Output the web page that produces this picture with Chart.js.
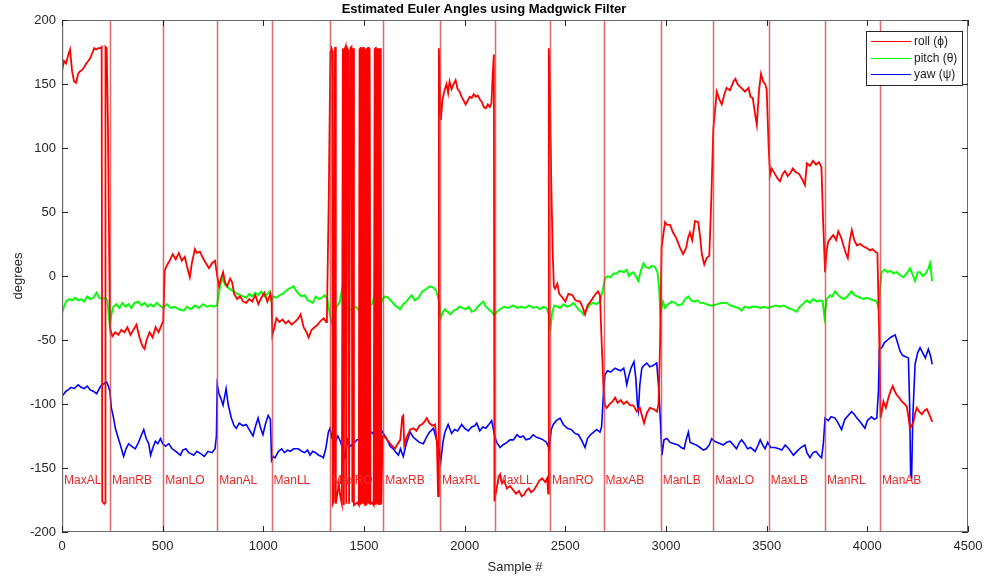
<!DOCTYPE html>
<html>
<head>
<meta charset="utf-8">
<script src="https://cdn.jsdelivr.net/npm/chart.js@4.4.0/dist/chart.umd.min.js"></script>
<style>
html, body { margin: 0; padding: 0; background: #fff; }
</style>
</head>
<body>
<canvas id="myChart" width="990" height="578"></canvas>
<script>
// --- data (sample #, degrees) ---
const rollX = [
    0,10,20,30,40,50,60,70,80,90,100,110,120,130,140,150,160,170,180,190,197,200,210,214,216,222,228,233,238,
    250,265,280,295,310,325,340,355,370,385,400,410,420,435,450,465,480,495,503,
    510,520,535,550,565,580,595,610,620,635,645,660,670,685,700,715,730,745,760,771,
    780,790,800,810,820,835,845,855,870,885,900,915,930,945,960,975,990,1005,1020,1035,1041,
    1045,1055,1065,1080,1095,1110,1125,1140,1155,1170,1185,1200,1215,1225,1240,1255,1270,1285,1300,1312,
    1316,1325,1333,1338,1342,1345,1350,1356,1360,1368,1375,1382,1390,1395,1400,1404,1408,1412,1416,1422,1426,1432,1438,1442,1446,1450,1458,1466,1474,
    1478,1481,1484,1487,1490,1493,1496,1499,1502,1505,1508,1511,1514,1517,1520,1524,1528,1532,1540,1548,1553,1556,1559,1562,1565,1568,1571,1574,1577,1580,1583,1586,
    1592,1605,1620,1635,1654,1668,1680,1690,1695,1700,1712,1729,1745,1760,1775,1787,1800,1812,1825,1840,1853,1862,1868,1872,
    1876,1882,1890,1900,1910,1918,1925,1935,1945,1955,1965,1975,1985,1995,2005,2015,2025,2035,2045,2055,2065,2075,2085,2095,2105,2115,2125,2133,2140,2145,2148,
    2152,2160,2168,2176,2186,2196,2210,2225,2240,2255,2270,2283,2295,2305,2318,2330,2345,2360,2370,2385,2400,2410,2415,2418,2424,2430,2437,2443,
    2449,2460,2470,2486,2500,2515,2536,2550,2573,2585,2598,2610,2625,2646,2662,2672,2680,2690,2697,
    2706,2720,2735,2747,2760,2775,2790,2805,2822,2838,2855,2870,2882,2891,2905,2920,2938,2955,2963,2970,2978,2995,
    3005,3020,3035,3050,3070,3085,3100,3110,3119,3130,3144,3160,3170,3178,3190,3202,3215,3225,3235,3252,
    3265,3277,3290,3301,3318,3335,3345,3355,3367,3380,3392,3410,3420,3431,3441,3451,3462,3472,3482,3492,3500,3510,3517,
    3525,3540,3555,3566,3580,3591,3605,3616,3630,3645,3660,3675,3690,3700,3715,3730,3745,3760,3772,3780,3790,
    3798,3806,3820,3831,3845,3856,3870,3881,3893,3903,3913,3923,3935,3948,3965,3981,3995,4014,4025,4039,4050,4058,4066,
    4073,4080,4092,4105,4115,4126,4136,4146,4158,4171,4185,4196,4204,4212,4220,4229,4238,4246,4258,4271,4284,4296,4310,4322
];
const rollY = [
    160,168,166,172,177,160,152,151,158,160,161,163,166,168,170,174,178,177,178,178,179,-176,-178,-177,179,178,120,40,-40,
    -47,-44,-46,-42,-44,-40,-46,-42,-38,-48,-55,-57,-50,-44,-48,-40,-44,-38,-35,
    4,8,12,17,13,18,12,15,8,-1,10,21,18,19,14,10,6,10,12,0,
    -8,-2,3,-5,-8,-2,-5,-14,-18,-16,-20,-21,-18,-20,-15,-22,-17,-13,-20,-14,-20,
    -46,-40,-33,-36,-34,-37,-35,-38,-36,-34,-30,-40,-44,-48,-42,-40,-38,-35,-33,-36,
    -30,60,175,178,176,-178,-176,179,-178,-170,-162,-172,-178,178,-179,177,179,-178,178,176,-178,178,179,-177,178,-179,-178,-177,-179,
    178,-178,179,-177,178,-178,179,-178,178,-179,177,-178,178,-177,179,-178,178,-178,-177,-179,178,-178,179,-177,178,-178,177,-179,178,-178,178,-178,
    -125,-126,-129,-132,-135,-131,-128,-110,-109,-132,-126,-120,-119,-121,-117,-116,-114,-111,-115,-117,-116,-130,-172,178,
    150,122,138,145,150,143,152,146,150,153,146,144,140,137,134,137,140,139,142,140,141,138,136,132,131,134,132,135,160,173,-176,
    -172,-165,-158,-155,-162,-160,-166,-164,-167,-170,-168,-172,-171,-168,-166,-169,-167,-163,-160,-158,-161,-158,-170,178,140,75,20,-8,
    -10,-6,-14,-17,-20,-14,-15,-19,-20,-24,-30,-23,-20,-15,-12,-15,-50,-90,-101,
    -103,-100,-98,-95,-99,-97,-100,-98,-101,-101,-106,-103,-110,-115,-107,-103,-104,-106,-100,-56,22,42,
    40,40,34,30,22,17,22,30,34,28,43,42,30,17,9,14,16,60,115,144,
    138,134,142,147,145,152,154,150,148,146,144,147,140,139,128,118,145,158,152,150,146,100,79,
    84,80,76,74,80,82,78,80,84,81,80,76,71,88,86,90,87,89,85,45,3,
    20,27,30,32,28,35,30,24,18,14,28,36,28,24,25,23,22,20,21,19,18,-40,-111,
    -105,-98,-103,-95,-90,-86,-90,-93,-95,-98,-100,-102,-110,-119,-117,-114,-107,-103,-106,-108,-105,-104,-109,-114
];

const pitchX = [
    0,10,20,35,50,65,80,95,110,125,140,155,172,185,200,215,225,232,238,
    245,255,270,285,300,315,330,345,360,379,395,410,425,440,455,470,485,503,
    520,540,560,580,605,620,640,660,680,700,720,740,755,770,
    785,798,810,825,840,855,870,885,900,916,930,945,960,975,990,1005,1020,1032,1041,
    1049,1065,1080,1095,1110,1125,1140,1149,1160,1175,1190,1205,1220,1235,1246,1260,1275,1290,1305,1318,
    1330,1340,1352,1364,1380,1394,1401,1410,1425,1442,1460,1475,1490,1505,1520,1540,1557,1565,1580,1592,
    1604,1620,1638,1655,1679,1695,1710,1725,1737,1752,1770,1790,1810,1828,1845,1860,1872,1881,
    1892,1902,1915,1930,1945,1960,1975,1990,2005,2020,2035,2051,2065,2078,2092,2105,2120,2134,2148,
    2160,2176,2195,2215,2242,2260,2280,2300,2320,2340,2357,2375,2390,2407,2418,2427,
    2435,2445,2460,2474,2490,2510,2525,2540,2555,2565,2580,2590,2600,2615,2625,2639,2655,2672,2685,2697,
    2710,2725,2740,2755,2770,2790,2805,2815,2826,2838,2850,2863,2875,2888,2900,2915,2930,2945,2958,2966,2972,
    2985,2995,3010,3028,3045,3060,3080,3095,3111,3125,3140,3155,3170,3185,3200,3218,3235,
    3255,3275,3301,3320,3340,3360,3376,3390,3410,3430,3450,3470,3490,3505,
    3525,3545,3565,3585,3605,3625,3649,3665,3680,3699,3715,3730,3749,3765,3778,3787,
    3798,3815,3825,3840,3855,3870,3885,3900,3922,3935,3950,3965,3980,3995,4015,4030,4047,4055,4063,
    4071,4085,4100,4115,4129,4145,4160,4179,4195,4212,4225,4237,4250,4262,4275,4290,4303,4312,4322
];
const pitchY = [
    -29,-24,-20,-18,-19,-17,-19,-18,-20,-16,-18,-17,-13,-17,-18,-17,-19,-30,-40,
    -30,-24,-22,-25,-21,-24,-22,-25,-21,-20,-23,-21,-24,-22,-24,-21,-23,-25,
    -22,-25,-24,-26,-27,-24,-26,-23,-25,-22,-24,-23,-24,-23,
    -8,-2,-7,-9,-11,-12,-14,-15,-16,-17,-14,-16,-13,-15,-12,-16,-14,-12,-20,
    -16,-17,-15,-14,-12,-10,-9,-8,-11,-14,-16,-15,-19,-20,-21,-16,-18,-17,-15,-18,
    -30,-36,-30,-24,-20,-8,-10,-24,-26,-26,-24,-27,-25,-25,-24,-22,-12,-16,-24,-18,
    -16,-17,-20,-23,-26,-22,-20,-17,-15,-19,-17,-12,-10,-8,-9,-12,-20,-33,
    -28,-26,-28,-30,-27,-26,-24,-25,-26,-24,-28,-27,-24,-22,-20,-24,-26,-28,-31,
    -28,-26,-24,-25,-23,-25,-24,-25,-23,-25,-24,-26,-24,-25,-30,-40,
    -28,-23,-24,-25,-22,-24,-23,-21,-24,-26,-28,-30,-27,-24,-22,-21,-22,-20,-12,-2,
    0,-1,2,2,4,3,5,0,2,3,0,-4,4,10,7,6,8,7,3,-10,-30,
    -20,-25,-22,-20,-21,-23,-22,-18,-16,-19,-20,-19,-21,-21,-22,-23,-23,
    -22,-21,-21,-23,-24,-25,-27,-24,-25,-24,-24,-25,-24,-25,
    -24,-23,-24,-23,-25,-26,-28,-24,-22,-19,-21,-18,-20,-19,-20,-32,
    -18,-15,-16,-12,-15,-17,-18,-16,-12,-15,-16,-17,-18,-17,-18,-19,-20,-25,-10,
    3,5,3,4,2,3,1,-1,2,6,1,-4,3,3,0,2,6,10,-4
];

const yawX = [
    0,10,20,30,45,60,80,95,110,125,140,155,172,185,197,210,222,230,238,
    245,255,265,278,290,306,318,331,345,364,380,395,406,418,431,440,452,464,476,489,
    500,515,530,547,565,588,600,615,630,654,670,690,707,725,745,760,767,771,
    780,790,800,815,825,841,855,866,880,899,915,930,949,960,974,985,998,1010,1024,1035,1041,
    1050,1058,1075,1091,1105,1120,1135,1150,1174,1190,1205,1220,1232,1245,1260,1275,1290,1298,1310,1323,
    1331,1342,1356,1370,1385,1395,1405,1418,1432,1447,1465,1488,1505,1520,1538,1555,1570,1588,
    1600,1612,1630,1645,1660,1671,1681,1695,1710,1729,1745,1760,1775,1795,1810,1825,1845,1860,1872,1881,
    1892,1902,1918,1935,1950,1965,1985,2000,2018,2035,2050,2060,2075,2090,2105,2120,2134,2148,
    2159,2176,2190,2210,2225,2242,2260,2275,2290,2305,2324,2340,2357,2375,2390,2407,2420,
    2430,2440,2455,2474,2490,2510,2530,2548,2565,2580,2598,2610,2625,2640,2656,2672,2680,2690,
    2697,2710,2725,2747,2760,2775,2790,2798,2805,2815,2826,2841,2850,2858,2863,2870,2880,2890,2904,2920,2935,2954,2965,2980,
    2990,3005,3020,3040,3061,3075,3090,3100,3111,3120,3135,3150,3169,3185,3200,3215,3227,
    3240,3255,3270,3285,3300,3318,3335,3350,3365,3376,3390,3405,3420,3443,3455,3468,3480,3492,3505,
    3520,3540,3560,3575,3592,3610,3633,3650,3670,3690,3700,3715,3730,3745,3760,3773,3782,3790,
    3806,3820,3840,3855,3872,3888,3905,3922,3935,3948,3965,3988,4000,4020,4035,4047,4055,
    4060,4072,4085,4100,4115,4138,4150,4163,4175,4190,4204,4210,4215,4220,4226,4237,4250,4262,4275,4288,4303,4315,4322
];
const yawY = [
    -94,-92,-90,-89,-87,-88,-85,-87,-88,-86,-89,-90,-92,-88,-85,-84,-83,-86,-90,
    -103,-110,-119,-126,-132,-141,-135,-131,-133,-135,-130,-124,-120,-127,-131,-140,-134,-129,-131,-127,
    -131,-133,-131,-135,-137,-140,-136,-135,-138,-140,-137,-139,-141,-137,-138,-135,-125,-85,
    -92,-96,-101,-88,-100,-111,-117,-119,-115,-117,-116,-120,-125,-118,-111,-118,-124,-116,-109,-112,-144,
    -141,-142,-137,-135,-138,-136,-137,-135,-135,-137,-138,-136,-140,-137,-138,-140,-141,-142,-135,-122,
    -119,-127,-130,-125,-130,-137,-142,-128,-133,-131,-128,-127,-125,-124,-122,-125,-124,-121,
    -124,-127,-133,-135,-138,-140,-135,-141,-131,-122,-126,-128,-130,-131,-126,-122,-119,-128,-135,-145,
    -130,-122,-116,-123,-120,-121,-116,-119,-121,-118,-117,-115,-121,-118,-119,-116,-113,-124,
    -130,-134,-132,-130,-128,-128,-124,-126,-125,-128,-127,-124,-126,-127,-128,-130,-135,
    -120,-116,-113,-111,-116,-119,-120,-123,-124,-128,-134,-127,-124,-122,-120,-122,-118,-90,
    -77,-74,-75,-72,-73,-74,-72,-78,-85,-78,-72,-67,-80,-100,-105,-85,-72,-70,-68,-71,-70,-68,-90,-140,
    -128,-127,-130,-131,-132,-134,-135,-128,-122,-130,-131,-132,-134,-136,-135,-132,-127,
    -129,-130,-131,-132,-130,-129,-132,-135,-130,-128,-131,-135,-134,-137,-133,-128,-132,-135,-130,
    -134,-134,-135,-136,-132,-135,-140,-137,-134,-132,-138,-142,-138,-137,-140,-142,-130,-111,
    -113,-110,-111,-115,-120,-112,-109,-106,-108,-111,-114,-119,-113,-110,-112,-111,-90,
    -57,-56,-52,-50,-48,-46,-52,-59,-62,-63,-64,-100,-155,-157,-110,-69,-60,-56,-60,-64,-57,-63,-69
];

// manoeuvre boundaries and their labels
const segmentStarts = [0, 238, 503, 771, 1041, 1331, 1596, 1878, 2149, 2424, 2690, 2974, 3235, 3510, 3790, 4063];
const segmentNames = ['MaxAL','ManRB','ManLO','ManAL','ManLL','MaxRO','MaxRB','MaxRL','MaxLL','ManRO','MaxAB','ManLB','MaxLO','MaxLB','ManRL','ManAB'];
const segmentLabelY = -160;

const xTicks = [0, 4500, 500];   // min, max, step
const yTicks = [-200, 200, 50];

function toPoints(xs, ys) {
    const n = Math.min(xs.length, ys.length);
    const out = [];
    for (let i = 0; i < n; i++) out.push({x: xs[i], y: ys[i]});
    return out;
}

Chart.defaults.font.family = '"Liberation Sans", Arial, Helvetica, sans-serif';
Chart.defaults.color = '#262626';

// vertical manoeuvre lines + their names
const segmentPlugin = {
    id: 'segments',
    afterDatasetsDraw(chart) {
        const ctx = chart.ctx, a = chart.chartArea;
        const xs = chart.scales.x, ys = chart.scales.y;
        ctx.save();
        ctx.beginPath();
        ctx.rect(a.left, a.top, a.right - a.left, a.bottom - a.top);
        ctx.clip();
        ctx.strokeStyle = 'rgba(215,55,55,0.75)';
        ctx.lineWidth = 1.5;
        segmentStarts.forEach(s => {
            const px = Math.round(xs.getPixelForValue(s)) + 0.5;
            ctx.beginPath();
            ctx.moveTo(px, a.top);
            ctx.lineTo(px, a.bottom);
            ctx.stroke();
        });
        ctx.fillStyle = 'rgb(232,40,40)';
        ctx.font = '12px "Liberation Sans", Arial, sans-serif';
        ctx.textBaseline = 'middle';
        ctx.textAlign = 'left';
        segmentStarts.forEach((s, i) => {
            ctx.fillText(segmentNames[i], xs.getPixelForValue(s) + 2, ys.getPixelForValue(segmentLabelY));
        });
        ctx.restore();
    }
};

// MATLAB style box, inward ticks and legend
const boxPlugin = {
    id: 'box',
    afterDraw(chart) {
        const ctx = chart.ctx, a = chart.chartArea;
        const xs = chart.scales.x, ys = chart.scales.y;
        ctx.save();
        ctx.strokeStyle = '#6a6a6a';
        ctx.lineWidth = 1;
        ctx.strokeRect(a.left + 0.5, a.top + 0.5, a.right - a.left - 1, a.bottom - a.top - 1);
        ctx.strokeStyle = '#262626';
        ctx.beginPath();
        xs.ticks.forEach(t => {
            const px = Math.round(xs.getPixelForValue(t.value)) + 0.5;
            ctx.moveTo(px, a.bottom); ctx.lineTo(px, a.bottom - 6);
            ctx.moveTo(px, a.top); ctx.lineTo(px, a.top + 6);
        });
        ys.ticks.forEach(t => {
            const py = Math.round(ys.getPixelForValue(t.value)) + 0.5;
            ctx.moveTo(a.left, py); ctx.lineTo(a.left + 6, py);
            ctx.moveTo(a.right, py); ctx.lineTo(a.right - 6, py);
        });
        ctx.stroke();

        // legend
        const w = 96, h = 54;
        const lx = Math.round(a.right - 6 - w), ly = Math.round(a.top + 11);
        ctx.fillStyle = '#fff';
        ctx.fillRect(lx, ly, w, h);
        ctx.strokeStyle = '#262626';
        ctx.strokeRect(lx + 0.5, ly + 0.5, w, h);
        ctx.font = '12px "Liberation Sans", Arial, sans-serif';
        ctx.textBaseline = 'middle';
        chart.data.datasets.forEach((d, i) => {
            const yy = ly + 10 + Math.round(i * 16.7) + 0.5;
            ctx.beginPath();
            ctx.strokeStyle = d.borderColor;
            ctx.lineWidth = 1.2;
            ctx.moveTo(lx + 5, yy); ctx.lineTo(lx + 45, yy);
            ctx.stroke();
            ctx.fillStyle = '#1a1a1a';
            ctx.fillText(d.label, lx + 48, yy);
        });
        ctx.restore();
    }
};

new Chart(document.getElementById('myChart'), {
    type: 'line',
    data: {
        datasets: [{
            label: 'roll (ϕ)',
            data: toPoints(rollX, rollY),
            borderColor: 'rgb(255,0,0)',
            borderWidth: 1.8,
        }, {
            label: 'pitch (θ)',
            data: toPoints(pitchX, pitchY),
            borderColor: 'rgb(0,255,0)',
            borderWidth: 1.9,
        }, {
            label: 'yaw (ψ)',
            data: toPoints(yawX, yawY),
            borderColor: 'rgb(0,0,255)',
            borderWidth: 1.6,
        }]
    },
    options: {
        responsive: false,
        animation: false,
        layout: { padding: { left: 0, right: 22, top: 0, bottom: 0 } },
        elements: {
            point: { radius: 0 },
            line: { tension: 0 }
        },
        plugins: {
            legend: { display: false },
            tooltip: { enabled: false },
            title: {
                display: true,
                text: 'Estimated Euler Angles using Madgwick Filter',
                color: '#000',
                font: { size: 13, weight: 'bold', lineHeight: 1 },
                padding: { top: 3, bottom: 4 }
            }
        },
        scales: {
            x: {
                type: 'linear',
                min: xTicks[0], max: xTicks[1],
                grid: { display: false, drawTicks: false },
                border: { display: false },
                ticks: { stepSize: xTicks[2], padding: 7, font: { size: 13 }, color: '#262626', maxRotation: 0,
                         callback: v => String(v) },
                title: { display: true, text: 'Sample #', font: { size: 13 }, color: '#262626', padding: { top: 0, bottom: 3 } },
                afterFit: s => { s.height = 46; }
            },
            y: {
                min: yTicks[0], max: yTicks[1],
                grid: { display: false, drawTicks: false },
                border: { display: false },
                ticks: { stepSize: yTicks[2], padding: 6, font: { size: 13 }, color: '#262626',
                         callback: v => String(v) },
                title: { display: true, text: 'degrees', font: { size: 13 }, color: '#262626', padding: { top: 11, bottom: 0 } },
                afterFit: s => { s.width = 62; }
            }
        }
    },
    plugins: [segmentPlugin, boxPlugin]
});
</script>
</body>
</html>
